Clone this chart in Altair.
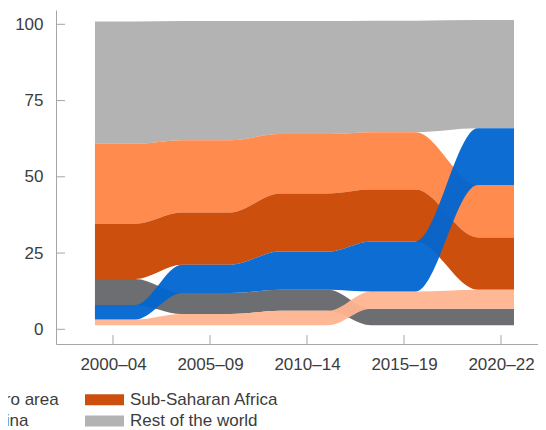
import json
import altair as alt
import pandas as pd

# ---- data ----
PERIODS = ["2000–04", "2005–09", "2010–14", "2015–19", "2020–22"]
SERIES = ["United States", "India", "Euro area", "China", "Sub-Saharan Africa", "Rest of the world"]
COLORS = ["#65666A", "#FFB490", "#FF8544", "#0065D1", "#C94600", "#AFAFAF"]

united_states = [8.5, 6.9, 6.9, 5.4, 5.4]
india = [1.9, 3.7, 4.8, 5.7, 6.3]
euro_area = [26.2, 23.7, 19.5, 18.8, 17.2]
china = [4.8, 9.3, 12.5, 16.4, 18.6]
sub_saharan_africa = [18.1, 17.1, 19.0, 17.0, 17.1]
rest_of_world = [40.1, 39.1, 37.1, 36.6, 35.5]

Y_TICKS = [0, 25, 50, 75, 100]

# ---- layout / style constants ----
DRAW_ORDER = ["Rest of the world", "Euro area", "Sub-Saharan Africa", "United States", "India", "China"]
BASE = 1.3
FLAT_START = [-0.186, -0.29, -0.28, -0.34, -0.24]
FLAT_END = [0.23, 0.21, 0.22, 0.12, 0.134]
FONT = "Liberation Sans, Arial, sans-serif"
FS = 17
AXIS_GRAY = "#A6A6A6"
TEXT = "#3C3C3C"
W, H = 482, 334

values = dict(zip(SERIES, [united_states, india, euro_area, china, sub_saharan_africa, rest_of_world]))

rows = []
for i, p in enumerate(PERIODS):
    ranked = sorted(SERIES, key=lambda s: values[s][i])
    lo = BASE
    for s in ranked:
        hi = lo + values[s][i]
        for xv in (i + FLAT_START[i], i + FLAT_END[i]):
            rows.append({"series": s, "x": xv, "lo": lo, "hi": hi})
        lo = hi
df = pd.DataFrame(rows)

x_scale = alt.Scale(domain=[-0.5876, 4.3815], nice=False, zero=False)
y_scale = alt.Scale(domain=[-4.82, 104.69], nice=False, zero=False)
color_scale = alt.Scale(domain=SERIES, range=COLORS)

x_axis = alt.Axis(
    values=list(range(len(PERIODS))),
    labelExpr=json.dumps(PERIODS, ensure_ascii=False) + "[datum.value]",
    title=None, ticks=False, tickSize=0, grid=False,
    domainColor=AXIS_GRAY, domainWidth=1,
    labelFont=FONT, labelFontSize=FS, labelColor=TEXT, labelPadding=12,
    labelFlush=False, labelOverlap=False,
)
y_axis = alt.Axis(
    values=Y_TICKS, format="d",
    title=None, ticks=False, tickSize=0, grid=False,
    domainColor=AXIS_GRAY, domainWidth=1,
    labelFont=FONT, labelFontSize=FS, labelColor=TEXT, labelPadding=13,
    labelFlush=False, labelOverlap=False,
)
legend = alt.Legend(
    orient="none", legendX=-280, legendY=381, columns=3, title=None,
    symbolType="M-3.545,-1H3.545V1H-3.545Z", symbolSize=121, symbolStrokeWidth=0,
    labelOffset=17, columnPadding=26, rowPadding=3.5,
    labelFont=FONT, labelFontSize=FS, labelColor=TEXT, labelLimit=0,
)


def area_layer(s):
    return (
        alt.Chart(df)
        .transform_filter(alt.datum.series == s)
        .mark_area(interpolate="monotone", opacity=0.95)
        .encode(
            x=alt.X("x:Q", scale=x_scale, axis=x_axis),
            y=alt.Y("lo:Q", scale=y_scale, axis=y_axis),
            y2="hi:Q",
            color=alt.Color("series:N", scale=color_scale, legend=legend),
        )
    )


areas = [area_layer(s) for s in DRAW_ORDER]

x_ticks = (
    alt.Chart(pd.DataFrame({"x": list(range(len(PERIODS)))}))
    .mark_rule(color=AXIS_GRAY, strokeWidth=1)
    .encode(x=alt.X("x:Q", scale=x_scale, axis=x_axis), y=alt.value(H), y2=alt.value(H - 9))
)
y_ticks = (
    alt.Chart(pd.DataFrame({"y": Y_TICKS}))
    .mark_rule(color=AXIS_GRAY, strokeWidth=1)
    .encode(y=alt.Y("y:Q", scale=y_scale, axis=y_axis), x=alt.value(0), x2=alt.value(9))
)

chart = (
    alt.layer(*areas, x_ticks, y_ticks)
    .properties(
        width=W, height=H,
        autosize=alt.AutoSizeParams(type="none"),
        padding={"left": 48, "top": 2, "right": 0, "bottom": 86},
    )
    .configure_view(stroke=None)
)

chart.save("out.html", embed_options={"renderer": "svg", "actions": False})
